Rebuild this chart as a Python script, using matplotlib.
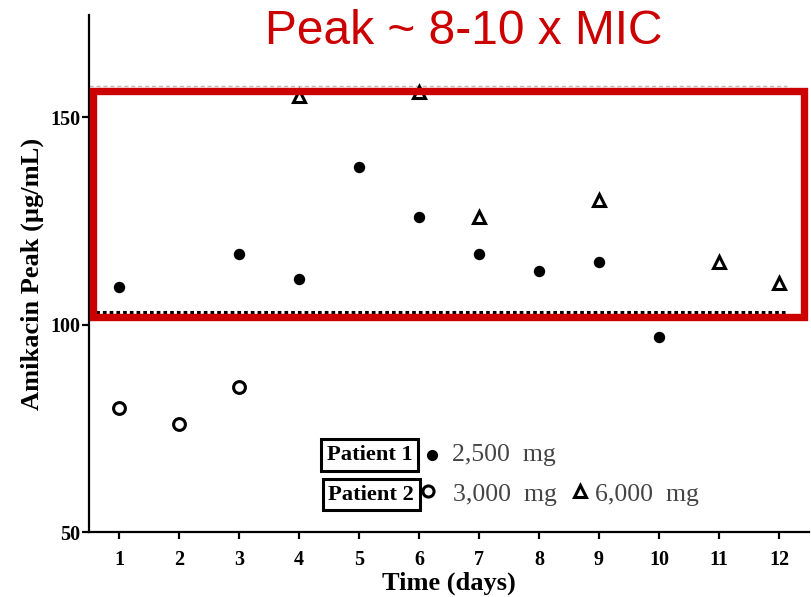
import matplotlib
matplotlib.use("Agg")
import matplotlib.pyplot as plt
from matplotlib.patches import Rectangle

# ---- data ----
p1_days = [1, 3, 4, 5, 6, 7, 8, 9, 10]
p1_2500 = [109, 117, 111, 138, 126, 117, 113, 115, 97]
p2_days_3000 = [1, 2, 3]
p2_3000 = [80, 76, 85]
p2_days_6000 = [4, 6, 7, 9, 11, 12]
p2_6000 = [155, 156, 126, 130, 115, 110]
xticks = list(range(1, 13))
yticks = [50, 100, 150]
threshold = 103
upper_ref = 157.5

W, H = 811, 597
fig = plt.figure(figsize=(W / 100, H / 100), dpi=100)
ax = fig.add_axes([89 / W, 1 - 532 / H, 720 / W, 517 / H])

serif = "Liberation Serif"

ax.plot(p1_days, p1_2500, "o", ms=7.2, color="black", mec="black", zorder=3)
ax.plot(p2_days_3000, p2_3000, "o", ms=8.5, mfc="white", mec="black", mew=2.2, zorder=3)
ax.plot(p2_days_6000, p2_6000, "^", ms=8.5, mfc="white", mec="black", mew=2.2, zorder=3)

ax.hlines(threshold, 0.5, 12.13, colors="black", lw=2.2, linestyles=(0, (1.2, 1.0)), zorder=2)
ax.hlines(upper_ref, 0.5, 12.13, colors="#bbbbbb", lw=1.0, linestyles=(0, (3, 2)), zorder=1)

ax.set_xlim(0.5, 12.5)
ax.set_ylim(50, 174.6)
ax.set_xticks(xticks)
ax.set_yticks(yticks)
ax.set_xticklabels([str(t) for t in xticks], fontfamily=serif, fontweight="bold", fontsize=14.5)
ax.set_yticklabels([str(t) for t in yticks], fontfamily=serif, fontweight="bold", fontsize=14.5)
ax.tick_params(axis="both", direction="out", length=5, width=1.6, color="black")
ax.tick_params(axis="x", pad=8)
ax.tick_params(axis="y", pad=1)
for s in ["top", "right"]:
    ax.spines[s].set_visible(False)
for s in ["left", "bottom"]:
    ax.spines[s].set_linewidth(1.6)
    ax.spines[s].set_color("black")

ax.set_xlabel("Time (days)", fontfamily=serif, fontweight="bold", fontsize=19, labelpad=1)
ax.set_ylabel("Amikacin Peak (\u00b5g/mL)", fontfamily=serif, fontweight="bold", fontsize=19, labelpad=5)

# ---- legend-like annotation ----
tkw = dict(transform=ax.transAxes, fontfamily=serif, clip_on=False)
bb = dict(boxstyle="square,pad=0.25", fc="white", ec="black", lw=2.2)
ax.text(0.39, 0.149, "Patient 1", ha="center", va="center", fontweight="bold", fontsize=16.2, bbox=bb, **tkw)
ax.text(0.392, 0.0725, "Patient 2", ha="center", va="center", fontweight="bold", fontsize=16.2, bbox=bb, **tkw)
ax.plot([0.477], [0.149], "o", ms=7, color="black", transform=ax.transAxes, clip_on=False)
ax.text(0.504, 0.149, "2,500  mg", ha="left", va="center", fontsize=18.5, color="#444444", **tkw)
ax.plot([0.471], [0.079], "o", ms=8, mfc="white", mec="black", mew=2.2, transform=ax.transAxes, clip_on=False)
ax.text(0.505, 0.0725, "3,000  mg", ha="left", va="center", fontsize=18.5, color="#444444", **tkw)
ax.plot([0.682], [0.079], "^", ms=8, mfc="white", mec="black", mew=2.2, transform=ax.transAxes, clip_on=False)
ax.text(0.703, 0.0725, "6,000  mg", ha="left", va="center", fontsize=18.5, color="#444444", **tkw)

# ---- red highlight box and title ----
red = "#cc0000"
x0, x1 = 93.3 / W, 804 / W
y0, y1 = 1 - 317 / H, 1 - 91 / H
fig.patches.append(Rectangle((x0, y0), x1 - x0, y1 - y0, transform=fig.transFigure,
                             fill=False, ec=red, lw=5.3, zorder=10))
fig.text(464 / W, 1 - 31 / H, "Peak ~ 8-10 x MIC", ha="center", va="center",
         fontfamily="Liberation Sans", fontsize=34.5, color=red)

fig.savefig("out.png", dpi=100)
